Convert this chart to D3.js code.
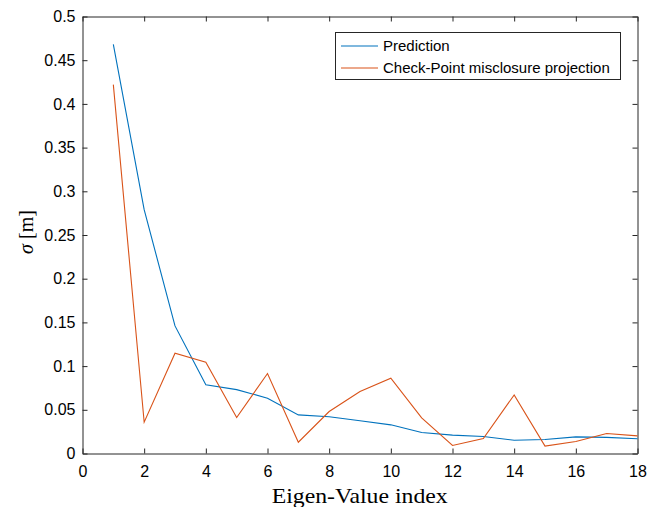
<!DOCTYPE html>
<html><head><meta charset="utf-8">
<script src="https://cdn.jsdelivr.net/npm/d3@7"></script>
<style>body{margin:0;background:#fff}svg{display:block}</style>
</head><body>
<svg id="c" width="648" height="507"></svg>
<script>
const indices = [1,2,3,4,5,6,7,8,9,10,11,12,13,14,15,16,17,18];
const prediction = [0.468,0.279,0.146,0.0786,0.0731,0.0633,0.0442,0.042,0.0375,0.0328,0.024,0.021,0.0195,0.0152,0.016,0.019,0.0185,0.0168];
const checkPoint = [0.422,0.0358,0.1148,0.1045,0.0412,0.0915,0.0129,0.048,0.071,0.0862,0.0408,0.0092,0.0172,0.067,0.0084,0.0137,0.0229,0.0202];
const xTicks = [0,2,4,6,8,10,12,14,16,18];
const yTicks = [0,0.05,0.1,0.15,0.2,0.25,0.3,0.35,0.4,0.45,0.5];
const seriesNames = ["Prediction","Check-Point misclosure projection"];
const colors = ["#0072BD","#D95319"];

const svg = d3.select("#c");
const L=82.5, R=637.5, T=16.5, B=453.5;
const x = d3.scaleLinear().domain([0,18]).range([L,R]);
const y = d3.scaleLinear().domain([0,0.5]).range([B,T]);
const font = "'Liberation Sans', Arial, Helvetica, sans-serif";

const tl = 5;
const gx = svg.append("g").attr("transform",`translate(0,${B})`)
  .call(d3.axisBottom(x).tickValues(xTicks).tickSizeInner(-tl).tickSizeOuter(0).tickPadding(12).tickFormat(d3.format("d")));
const gxt = svg.append("g").attr("transform",`translate(0,${T})`)
  .call(d3.axisTop(x).tickValues(xTicks).tickSizeInner(-tl).tickSizeOuter(0).tickFormat(""));
const gy = svg.append("g").attr("transform",`translate(${L},0)`)
  .call(d3.axisLeft(y).tickValues(yTicks).tickSizeInner(-tl).tickSizeOuter(0).tickPadding(7).tickFormat(d=>String(+d.toFixed(2))));
const gyr = svg.append("g").attr("transform",`translate(${R},0)`)
  .call(d3.axisRight(y).tickValues(yTicks).tickSizeInner(-tl).tickSizeOuter(0).tickFormat(""));
[gx,gxt,gy,gyr].forEach(g=>{
  g.selectAll("path.domain").attr("stroke","#262626").attr("stroke-width",1);
  g.selectAll(".tick line").attr("stroke","#262626").attr("stroke-width",1);
  g.selectAll("text").attr("font-family",font).attr("font-size",16).attr("fill","#000");
});

const line = d3.line().x((d,i)=>x(indices[i])).y(d=>y(d));
[prediction,checkPoint].forEach((s,k)=>{
  svg.append("path").datum(s).attr("d",line).attr("fill","none")
    .attr("stroke",colors[k]).attr("stroke-width",1.1);
});

// axis labels
svg.append("text").attr("x",359.7).attr("y",503).attr("text-anchor","middle")
  .attr("font-family","'Liberation Serif','Times New Roman',serif").attr("font-size",21)
  .attr("textLength",176).attr("lengthAdjust","spacingAndGlyphs")
  .text("Eigen-Value index");
const yl = svg.append("text").attr("transform",`translate(33,232) rotate(-90)`)
  .attr("text-anchor","middle").attr("font-family","'Liberation Serif','Times New Roman',serif").attr("font-size",20);
yl.append("tspan").attr("font-style","italic").text("σ");
yl.append("tspan").text(" [m]");

// legend
const lg = svg.append("g");
lg.append("rect").attr("x",335.5).attr("y",32.5).attr("width",285).attr("height",47)
  .attr("fill","#fff").attr("stroke","#262626").attr("stroke-width",1);
seriesNames.forEach((n,k)=>{
  const yy = 46 + k*22;
  lg.append("line").attr("x1",341).attr("x2",378).attr("y1",yy).attr("y2",yy)
    .attr("stroke",colors[k]).attr("stroke-width",1.1);
  lg.append("text").attr("x",383).attr("y",yy).attr("dy","0.35em")
    .attr("font-family",font).attr("font-size",15).text(n);
});
</script>
</body></html>
